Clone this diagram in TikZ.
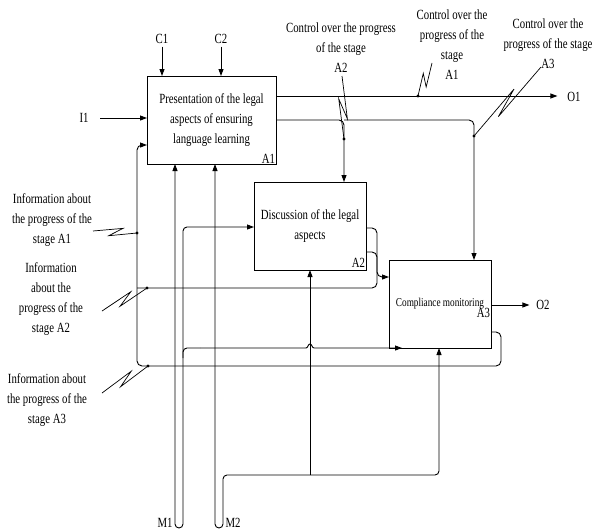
\documentclass[tikz,border=0pt]{standalone}
\usepackage{fontspec}
\setmainfont{Liberation Serif}[FakeStretch=0.77]
\usetikzlibrary{arrows.meta,calc}
\tikzset{
  lbl/.style={font=\fontsize{14}{20}\selectfont, inner sep=0pt, outer sep=0pt, align=center},
  pbox/.style={draw, line width=0.9pt, inner sep=0pt, outer sep=0pt, align=center, font=\fontsize{14}{20}\selectfont},
  ln/.style={line width=0.9pt},
  arr/.style={ln, -{Triangle[length=7pt,width=5pt]}},
  darr/.style={ln, {Triangle[length=7pt,width=5pt]}-{Triangle[length=7pt,width=5pt]}},
  zz/.style={line width=0.7pt},
  dot/.style={circle, fill, inner sep=0pt, minimum size=3.2pt}
}
\newcommand\zzline[2]{\draw[zz] (#1) -- ($(#1)!0.68!(#2)!4pt!90:(#2)$) -- ($(#1)!0.36!(#2)!4pt!-90:(#2)$) -- (#2);}
\begin{document}
\begin{tikzpicture}[x=1pt,y=-1pt]
\useasboundingbox (0,0) rectangle (594,530);

% boxes
\node[pbox, minimum width=129pt, minimum height=88pt] (a1) at (211.5,120) {Presentation of the legal\\aspects of ensuring\\language learning};
\node[pbox, minimum width=112pt, minimum height=88pt] (a2) at (310,226) {Discussion of the legal\\aspects};
\node[pbox, minimum width=102pt, minimum height=88pt, font=\fontsize{12}{14}\selectfont] (a3) at (440,304) {Compliance monitoring};
\node[lbl, anchor=south east] (a1n) at (275,163) {A1};
\node[lbl, anchor=south east] (a2n) at (365,267) {A2};
\node[lbl, anchor=south east] (a3n) at (490,318) {A3};

% simple labels
\node[lbl] (c1) at (162,39) {C1};
\node[lbl] (c2) at (221,39) {C2};
\node[lbl] (i1) at (84,118) {I1};
\node[lbl] (o1) at (574,97) {O1};
\node[lbl] (o2) at (543,305) {O2};
\node[lbl] (m1) at (165,523) {M1};
\node[lbl] (m2) at (233,523) {M2};

% text labels
\node[lbl] (ctl2) at (341,48) {Control over the progress\\of the stage\\A2};
\node[lbl] (ctl1) at (452,45) {Control over the\\progress of the\\stage\\A1};
\node[lbl] (ctl3) at (548,44) {Control over the\\progress of the stage\\A3};
\node[lbl] (inf1) at (52,220) {Information about\\the progress of the\\stage A1};
\node[lbl] (inf2) at (51,299) {Information\\about the\\progress of the\\stage A2};
\node[lbl] (inf3) at (47,400) {Information about\\the progress of the\\stage A3};

% controls and input
\draw[arr, shorten <=3pt] (c1.south) -- (c1.south |- a1.north);
\draw[arr, shorten <=3pt] (c2.south) -- (c2.south |- a1.north);
\draw[arr, shorten <=12pt] (i1.east) -- (i1.east -| a1.west);

% outputs of A1
\draw[arr, shorten >=10pt] (a1.east |- 0,96) -- (o1.west |- 0,96);
\draw[arr, rounded corners=5pt] (a1.east |- 0,120) -- (344,120) -- (344,0 |- a2.north);
\draw[arr, rounded corners=5pt] (344,120) -- (474,120) -- (474,0 |- a3.north);

% outputs of A2
\draw[arr, rounded corners=5pt] (a2.east |- 0,228) -- (377,228) -- (377,277) -- (a3.west |- 0,277);
\draw[ln, rounded corners=5pt] (a2.east |- 0,252) -- (377,252) -- (377,288) -- (137,288);

% outputs of A3
\draw[arr, shorten >=7pt] (a3.east |- 0,305) -- (o2.west |- 0,305);
\draw[arr, rounded corners=5pt] (a3.east |- 0,332) -- (501,332) -- (501,366) -- (137,366) -- (137,145) -- (a1.west |- 0,145);

% mechanisms
\draw[darr, rounded corners=4pt] (175,0 |- a1.south) -- (175,528) -- (183,528) -- (183,227) -- (a2.west |- 0,227);
\draw[ln, rounded corners=4pt] (183,358) -- (183,348) -- (200,348);
\draw[arr] (200,348) -- (306,348) .. controls (308,348) and (308,344) .. (310,344) .. controls (312,344) and (312,348) .. (314,348) -- (402,348);
\draw[darr, rounded corners=4pt] (215,0 |- a1.south) -- (215,528) -- (223,528) -- (223,475) -- (439,475) -- (439,0 |- a3.south);
\draw[arr] (310,475) -- (310,0 |- a2.south);

% dots
\node[dot] (d1) at (344,139) {};
\node[dot] (d2) at (474,136) {};
\node[dot] (d3) at (418,96) {};
\node[dot] (d4) at (137,233) {};
\node[dot] (d5) at (147,288) {};
\node[dot] (d6) at (148,366) {};

% squiggles
\coordinate (s2) at (342,76);
\coordinate (s1) at (432,63);
\coordinate (s3) at (541,67);
\coordinate (t1) at (93,231);
\coordinate (t2) at (102,311);
\coordinate (t3) at (102,393);
\zzline{s2}{d1.center}
\zzline{s1}{d3.center}
\zzline{s3}{d2.center}
\zzline{t1}{d4.center}
\zzline{t2}{d5.center}
\zzline{t3}{d6.center}
\end{tikzpicture}
\end{document}
